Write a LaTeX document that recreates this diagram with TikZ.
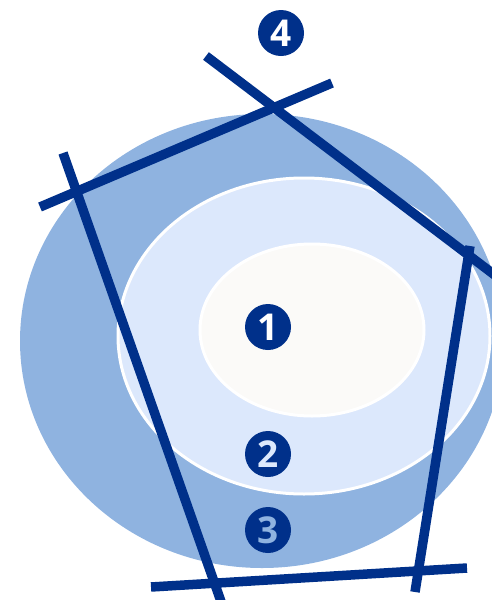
\documentclass[tikz,border=0pt]{standalone}
\usepackage{fontspec}
\setmainfont{Open Sans}
\usetikzlibrary{shapes.geometric}

\definecolor{navy}{HTML}{00308A}
\definecolor{midblue}{HTML}{8FB3E0}
\definecolor{paleblue}{HTML}{DCE8FC}
\definecolor{cream}{HTML}{FBFAF8}

\tikzset{
    zone/.style={ellipse, inner sep=0pt, outer sep=0pt},
    border/.style={navy, line width=9.5pt},
    badge/.style={circle, fill=navy, minimum size=46pt, inner sep=0pt, font=\fontsize{37}{37}\selectfont\bfseries}
}

\begin{document}
\begin{tikzpicture}[x=1pt, y=-1pt]
    \useasboundingbox (0,0) rectangle (491,600);

    % Zones
    \node[zone, fill=midblue, minimum width=484pt, minimum height=454pt] (outer) at (262,341) {};
    \node[zone, fill=paleblue, draw=white, line width=3pt, minimum width=372pt, minimum height=316pt] (middle) at (304,336) {};
    \node[zone, fill=cream, draw=white, line width=3pt, minimum width=224pt, minimum height=172pt] (inner) at (312,330) {};

    % Boundary ends
    \coordinate (a1) at (206,56);
    \coordinate (a2) at (496,276);
    \coordinate (b1) at (332,83);
    \coordinate (b2) at (40,207);
    \coordinate (c1) at (63,153);
    \coordinate (c2) at (224,610);
    \coordinate (d1) at (470,246);
    \coordinate (d2) at (415,592);
    \coordinate (e1) at (151,587);
    \coordinate (e2) at (467,568);

    % Boundaries
    \draw[border] (a1) -- (a2);
    \draw[border] (b1) -- (b2);
    \draw[border] (c1) -- (c2);
    \draw[border] (d1) -- (d2);
    \draw[border] (e1) -- (e2);

    % Badges
    \node[badge, text=white] (n4) at (281,33) {4};
    \node[badge, text=white] (n1) at (268,327) {1};
    \node[badge, text=paleblue] (n2) at (268,454) {2};
    \node[badge, text=midblue] (n3) at (268,530) {3};
\end{tikzpicture}
\end{document}
